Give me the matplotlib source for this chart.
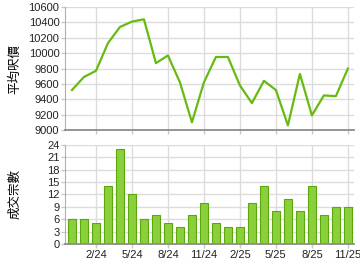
import matplotlib.pyplot as plt

plt.rcParams['font.family'] = ['Liberation Sans', 'Noto Sans CJK TC', 'DejaVu Sans']

# monthly data, 12/23 .. 11/25
months = ["12/23", "1/24", "2/24", "3/24", "4/24", "5/24", "6/24", "7/24", "8/24", "9/24",
          "10/24", "11/24", "12/24", "1/25", "2/25", "3/25", "4/25", "5/25", "6/25", "7/25",
          "8/25", "9/25", "10/25", "11/25"]
avg_price = [9520, 9690, 9770, 10130, 10340, 10410, 10440, 9870, 9970, 9620,
             9100, 9620, 9950, 9950, 9580, 9350, 9640, 9520, 9060, 9730,
             9190, 9450, 9440, 9800]
volume = [6, 6, 5, 14, 23, 12, 6, 7, 5, 4, 7, 10, 5, 4, 4, 10, 14, 8, 11, 8,
          14, 7, 9, 9]
tick_labels = ["2/24", "5/24", "8/24", "11/24", "2/25", "5/25", "8/25", "11/25"]

x = list(range(len(months)))
tick_pos = [months.index(t) for t in tick_labels]

fig = plt.figure(figsize=(3.6, 2.7), dpi=100)
ax1 = fig.add_axes([0.1806, 0.5185, 0.8024, 0.4555])
ax2 = fig.add_axes([0.1806, 0.0963, 0.8024, 0.3667])

grid_c = "#dcdcdc"
for ax in (ax1, ax2):
    ax.set_xlim(-0.58, 23.5)
    ax.set_xticks(tick_pos)
    ax.grid(True, color=grid_c, linewidth=1)
    ax.set_axisbelow(True)
    for s in ("top", "right"):
        ax.spines[s].set_visible(False)
    ax.spines["left"].set_color("#b0b0b0")
    ax.spines["bottom"].set_color("#8c8c8c")
    ax.spines["bottom"].set_linewidth(1.3)
    ax.tick_params(axis="both", colors="#c8c8c8", labelcolor="#222222",
                   labelsize=8, length=3, width=1, pad=1)

ax1.plot(x, avg_price, color="#66bb11", linewidth=1.6)
ax1.set_ylim(9000, 10600)
ax1.set_yticks(range(9000, 10601, 200))
ax1.tick_params(axis="x", labelbottom=False)
ax1.set_ylabel("平均呎價", family=["Noto Sans CJK TC"], fontsize=9)

ax2.bar(x, volume, width=0.7, color="#8ccf3c", edgecolor="#5aa80a", linewidth=0.8)
ax2.set_ylim(0, 24)
ax2.set_yticks(range(0, 25, 3))
ax2.set_xticklabels(tick_labels)
ax2.set_ylabel("成交宗數", family=["Noto Sans CJK TC"], fontsize=9)

ax1.yaxis.set_label_coords(-0.15, 0.5)
ax2.yaxis.set_label_coords(-0.15, 0.5)

fig.savefig("out.png", dpi=100)
